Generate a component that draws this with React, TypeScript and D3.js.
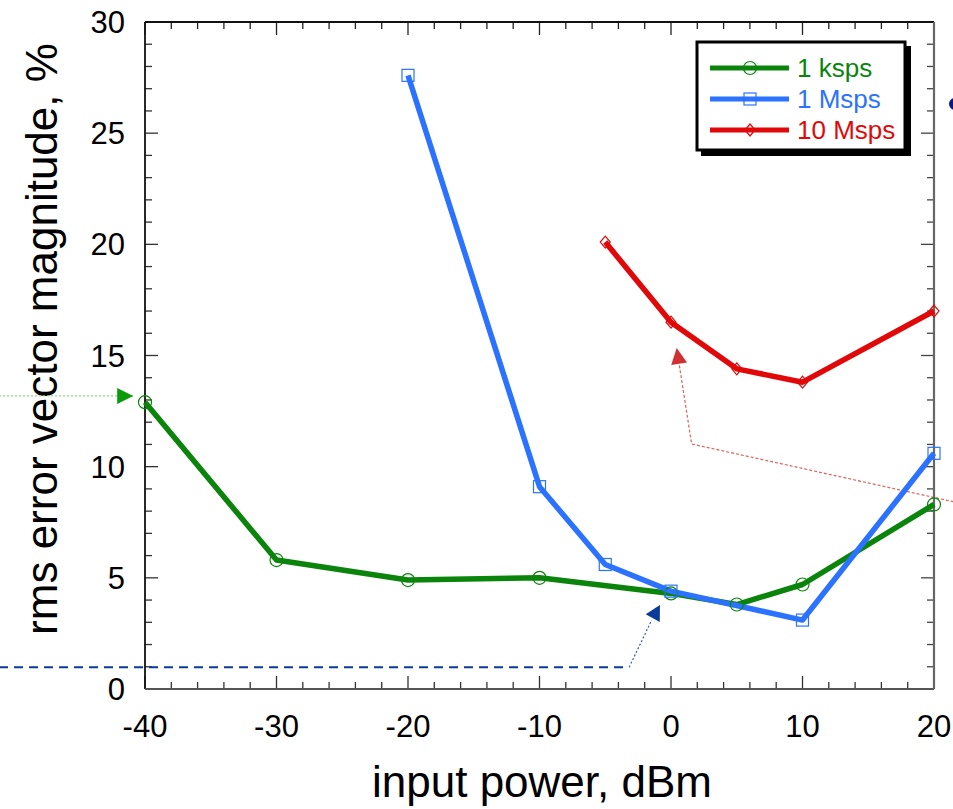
import React from "react";
import * as d3 from "d3";

const xTicks = [-40, -30, -20, -10, 0, 10, 20];
const yTicks = [0, 5, 10, 15, 20, 25, 30];

const kspsX = [-40, -30, -20, -10, 0, 5, 10, 20];
const kspsY = [12.9, 5.8, 4.9, 5.0, 4.3, 3.8, 4.7, 8.3];
const mspsX = [-20, -10, -5, 0, 10, 20];
const mspsY = [27.6, 9.1, 5.6, 4.4, 3.1, 10.6];
const m10X = [-5, 0, 5, 10, 20];
const m10Y = [20.1, 16.5, 14.4, 13.8, 17.0];

const seriesNames = ["1 ksps", "1 Msps", "10 Msps"];
const seriesColors = ["#0a840a", "#2a72ff", "#e00808"];
const seriesMarkers = ["circle", "square", "diamond"];

// annotation paths in data units
const greenArrow = [[-51.1, 13.18], [-40.9, 13.18]];
const blueArrow = [[-51.1, 0.98], [-3.18, 0.98], [-1.47, 3.1], [-0.84, 3.78]];
const redArrow = [[21.5, 8.42], [1.57, 11.02], [0.43, 15.34]];

const FONT = "'Liberation Sans', Arial, Helvetica, sans-serif";

const W = 953, H = 809;
const L = 145, R = 934, T = 22, B = 689;

export default function App() {
  const x = d3.scaleLinear().domain([-40, 20]).range([L, R]);
  const y = d3.scaleLinear().domain([0, 30]).range([B, T]);
  const line = d3.line<[number, number]>().x(d => x(d[0])).y(d => y(d[1]));

  const series = [
    kspsX.map((v, i) => [v, kspsY[i]] as [number, number]),
    mspsX.map((v, i) => [v, mspsY[i]] as [number, number]),
    m10X.map((v, i) => [v, m10Y[i]] as [number, number]),
  ];

  const marker = (kind: string, cx: number, cy: number, color: string, key: any) => {
    if (kind === "circle")
      return <circle key={key} cx={cx} cy={cy} r={6.5} fill="none" stroke={color} strokeWidth={1.2} />;
    if (kind === "square")
      return <rect key={key} x={cx - 6} y={cy - 6} width={12} height={12} fill="none" stroke={color} strokeWidth={1.2} />;
    return <path key={key} d={`M${cx},${cy - 6}L${cx + 5},${cy}L${cx},${cy + 6}L${cx - 5},${cy}Z`} fill="none" stroke={color} strokeWidth={1.2} />;
  };

  const xMinor = d3.range(-40, 20.001, 2);
  const yMinor = d3.range(0, 30.001, 1);

  const arrowHead = (pts: number[][], len: number, half: number, color: string) => {
    const n = pts.length;
    const [x1, y1] = [x(pts[n - 2][0]), y(pts[n - 2][1])];
    const [x2, y2] = [x(pts[n - 1][0]), y(pts[n - 1][1])];
    const dx = x2 - x1, dy = y2 - y1;
    const d = Math.hypot(dx, dy);
    const ux = dx / d, uy = dy / d;
    const bx = x2 - ux * len, by = y2 - uy * len;
    return (
      <path
        d={`M${x2},${y2}L${bx - uy * half},${by + ux * half}L${bx + uy * half},${by - ux * half}Z`}
        fill={color}
      />
    );
  };
  const pathOf = (pts: number[][], trimLen: number) => {
    const p = pts.map(d => [x(d[0]), y(d[1])]);
    const n = p.length;
    const dx = p[n - 1][0] - p[n - 2][0], dy = p[n - 1][1] - p[n - 2][1];
    const d = Math.hypot(dx, dy);
    p[n - 1] = [p[n - 1][0] - (dx / d) * trimLen, p[n - 1][1] - (dy / d) * trimLen];
    return "M" + p.map(q => q.join(",")).join("L");
  };

  return (
    <svg width={W} height={H} style={{ position: "absolute", left: 0, top: 0 }} fontFamily={FONT}>
      <rect width={W} height={H} fill="#fff" />

      {/* minor ticks */}
      {xMinor.map(v => {
        const major = xTicks.includes(v);
        const len = major ? 13 : 7;
        return (
          <g key={"xm" + v}>
            <line x1={x(v)} x2={x(v)} y1={B} y2={B - len} stroke="#333" strokeWidth={1.3} />
            <line x1={x(v)} x2={x(v)} y1={T} y2={T + len} stroke="#222" strokeWidth={1.3} />
          </g>
        );
      })}
      {yMinor.map(v => {
        const major = yTicks.includes(v);
        const len = major ? 13 : 7;
        return (
          <g key={"ym" + v}>
            <line x1={L} x2={L + len} y1={y(v)} y2={y(v)} stroke="#333" strokeWidth={1.3} />
            <line x1={R} x2={R - len} y1={y(v)} y2={y(v)} stroke="#444" strokeWidth={1.3} />
          </g>
        );
      })}

      {/* frame */}
      <line x1={L} x2={R} y1={T} y2={T} stroke="#111" strokeWidth={1.8} />
      <line x1={L} x2={L} y1={T} y2={B} stroke="#111" strokeWidth={1.8} />
      <line x1={L} x2={R} y1={B} y2={B} stroke="#555" strokeWidth={2} />
      <line x1={R} x2={R} y1={T} y2={B} stroke="#666" strokeWidth={2.2} />

      {/* tick labels */}
      {xTicks.map(v => (
        <text key={"xl" + v} x={x(v)} y={737} textAnchor="middle" fontSize={31} fill="#000">
          {v}
        </text>
      ))}
      {yTicks.map(v => (
        <text key={"yl" + v} x={125} y={y(v)} dy="0.36em" textAnchor="end" fontSize={31} fill="#000">
          {v}
        </text>
      ))}

      {/* axis titles */}
      <text x={542} y={797} textAnchor="middle" fontSize={44} fill="#000">
        input power, dBm
      </text>
      <text transform="translate(57,339) rotate(-90)" textAnchor="middle" fontSize={44} fill="#000">
        rms error vector magnitude, %
      </text>

      {/* annotations */}
      <path d={pathOf(greenArrow, 0)} fill="none" stroke="#8fd88f" strokeWidth={1.3} strokeDasharray="2,2" />
      {arrowHead(greenArrow, 16, 8, "#0a9a0a")}
      <path
        d={`M${x(blueArrow[0][0])},${y(blueArrow[0][1])}L${x(blueArrow[1][0])},${y(blueArrow[1][1])}`}
        fill="none" stroke="#0a3a9a" strokeWidth={2} strokeDasharray="9,6"
      />
      <path
        d={pathOf(blueArrow.slice(1, 3), 0)}
        fill="none" stroke="#3a5aaa" strokeWidth={1.2} strokeDasharray="2,2"
      />
      {arrowHead(blueArrow, 15, 8, "#0a3a9a")}
      <path d={pathOf(redArrow, 12)} fill="none" stroke="#e06060" strokeWidth={1.2} strokeDasharray="3,2" />
      {arrowHead(redArrow, 16, 8, "#d03030")}
      <circle cx={955} cy={104} r={6} fill="#0a1a7a" />

      {/* series */}
      {series.map((s, i) => (
        <path key={"s" + i} d={line(s) || ""} fill="none" stroke={seriesColors[i]} strokeWidth={5.5} strokeLinejoin="round" />
      ))}
      {series.map((s, i) => s.map((d, j) => marker(seriesMarkers[i], x(d[0]), y(d[1]), seriesColors[i], `m${i}-${j}`)))}

      {/* legend */}
      <rect x={701} y={46} width={210} height={110} fill="#000" />
      <rect x={697} y={42} width={208} height={108} fill="#fff" stroke="#000" strokeWidth={3} />
      {seriesNames.map((name, i) => {
        const ly = 68 + i * 31;
        return (
          <g key={"lg" + i}>
            <line x1={710} x2={789} y1={ly} y2={ly} stroke={seriesColors[i]} strokeWidth={5} />
            {marker(seriesMarkers[i], 750, ly, seriesColors[i], "lm" + i)}
            <text x={797} y={ly} dy="0.36em" fontSize={26} fill={seriesColors[i]}>
              {name}
            </text>
          </g>
        );
      })}
    </svg>
  );
}
